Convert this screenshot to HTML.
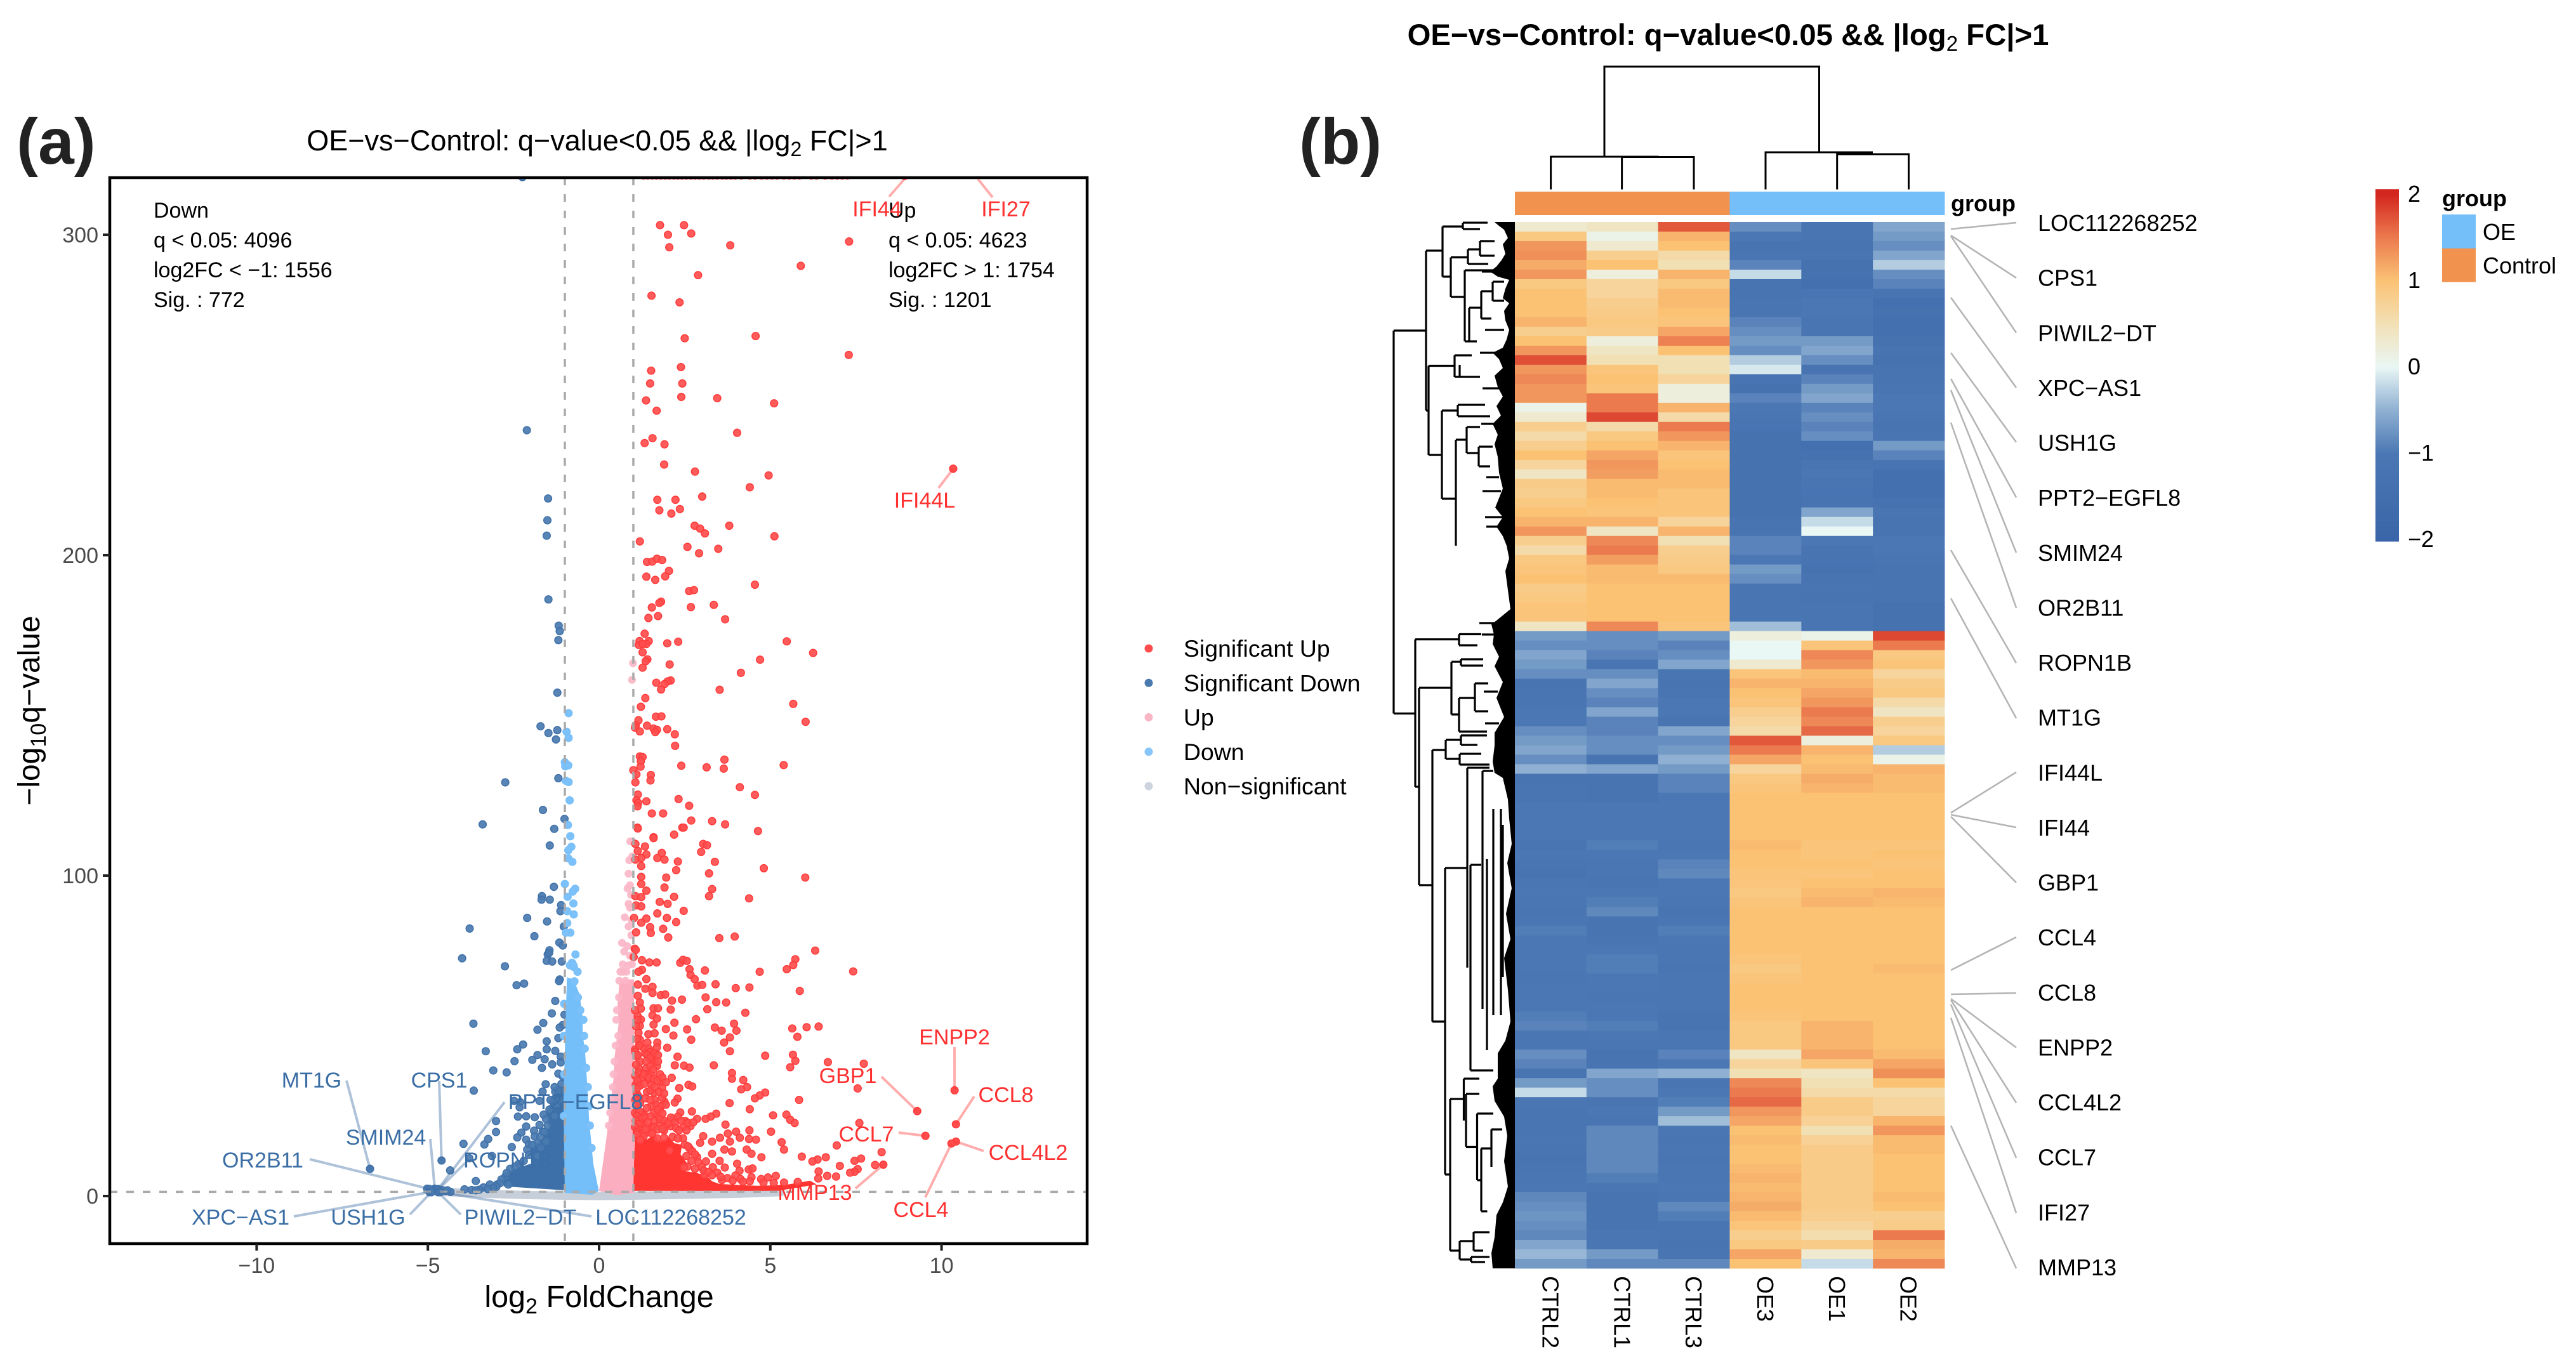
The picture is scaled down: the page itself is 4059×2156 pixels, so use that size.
<!DOCTYPE html>
<html lang="en">
<head>
<meta charset="utf-8">
<title>OE vs Control volcano plot and heatmap</title>
<style>
html,body{margin:0;padding:0;background:#fff;}
svg{display:block;font-family:"Liberation Sans",Arial,sans-serif;}
</style>
</head>
<body>
<svg id="fig" xmlns="http://www.w3.org/2000/svg" width="4059" height="2156" viewBox="0 0 4059 2156">
<rect width="4059" height="2156" fill="#fff"/>
<defs><clipPath id="plotClip"><rect x="173" y="280" width="1540" height="1680"/></clipPath></defs>

<!-- PANEL A -->
<text x="26" y="258" font-size="102" font-weight="700" fill="#222">(a)</text>
<text x="941" y="237" font-size="45" text-anchor="middle" fill="#000">OE−vs−Control: q−value&lt;0.05 &amp;&amp; |log<tspan dy="9" font-size="32">2</tspan><tspan dy="-9"> FC|&gt;1</tspan></text>
<g id="volcanoMarks" clip-path="url(#plotClip)"></g>
<g id="volcanoGuides" clip-path="url(#plotClip)"></g>
<g id="volcanoCallouts"></g>
<rect x="173" y="280" width="1540" height="1680" fill="none" stroke="#000" stroke-width="4.5"/>
<g id="volcanoAxes"></g>
<text x="944" y="2060" font-size="48.5" text-anchor="middle" fill="#000">log<tspan dy="10" font-size="34">2</tspan><tspan dy="-10"> FoldChange</tspan></text>
<text transform="translate(62,1120) rotate(-90)" font-size="48" text-anchor="middle" fill="#000">−log<tspan dy="10" font-size="34">10</tspan><tspan dy="-10">q−value</tspan></text>

<g font-size="34" fill="#000">
<text x="242" y="343">Down</text>
<text x="242" y="390">q &lt; 0.05: 4096</text>
<text x="242" y="437">log2FC &lt; −1: 1556</text>
<text x="242" y="484">Sig. : 772</text>
</g>
<g font-size="34" fill="#000">
<text x="1400" y="343">Up</text>
<text x="1400" y="390">q &lt; 0.05: 4623</text>
<text x="1400" y="437">log2FC &gt; 1: 1754</text>
<text x="1400" y="484">Sig. : 1201</text>
</g>

<g font-size="34" fill="#3a6ea5" text-anchor="middle">
<text x="491" y="1714">MT1G</text>
<text x="692" y="1714">CPS1</text>
<text x="907" y="1748">PPT2−EGFL8</text>
<text x="608" y="1804">SMIM24</text>
<text x="414" y="1840">OR2B11</text>
<text x="800" y="1840">ROPN1B</text>
<text x="379" y="1930">XPC−AS1</text>
<text x="580" y="1930">USH1G</text>
<text x="820" y="1930">PIWIL2−DT</text>
<text x="1057" y="1930">LOC112268252</text>
</g>
<g font-size="34" fill="#ff3030" text-anchor="middle">
<text x="1510" y="1646" dx="-6">ENPP2</text>
<text x="1336" y="1707">GBP1</text>
<text x="1592" y="1737" dx="-7">CCL8</text>
<text x="1365" y="1799">CCL7</text>
<text x="1627" y="1828" dx="-7">CCL4L2</text>
<text x="1284" y="1891">MMP13</text>
<text x="1451" y="1918">CCL4</text>
<text x="1390" y="341" dx="-8">IFI44</text>
<text x="1585" y="341">IFI27</text>
<text x="1457" y="800">IFI44L</text>
</g>

<g id="volcanoLegend"></g>

<!-- PANEL B -->
<text x="2047" y="258" font-size="102" font-weight="700" fill="#222">(b)</text>
<text x="2723" y="71" font-size="47.3" font-weight="700" text-anchor="middle" fill="#000">OE−vs−Control: q−value&lt;0.05 &amp;&amp; |log<tspan dy="9" font-size="33" font-weight="400">2</tspan><tspan dy="-9"> FC|&gt;1</tspan></text>

<path fill="none" stroke="#000" stroke-width="3" d="M2528 247V105H2866.5V240 M2443.6 298.5V247H2613.6 M2555.6 298.5V247.5H2669V298.5 M2782 298.5V240H2951 M2894.7 298.5V243H3007.5V298.5"/>

<g id="heatmapCells"></g>
<g id="annotationBar"></g>
<text x="3074" y="333" font-size="36" font-weight="700" fill="#000">group</text>
<g id="columnLabels"></g>

<polygon fill="#000" points="2355,350 2362,356 2370,362 2376,375 2368,385 2372,400 2366,410 2358,420 2348,428 2360,436 2378,441 2372,455 2368,470 2378,478 2370,490 2372,505 2378,520 2374,535 2368,548 2352,556 2362,566 2368,580 2355,592 2360,610 2368,625 2358,640 2365,655 2352,668 2360,685 2355,700 2360,720 2362,745 2368,770 2360,790 2356,800 2368,815 2358,830 2368,845 2374,860 2378,880 2372,900 2376,930 2380,960 2358,978 2350,984 2354,1000 2352,1015 2362,1035 2355,1050 2368,1075 2358,1100 2370,1130 2355,1155 2355,1175 2352,1200 2355,1218 2368,1226 2376,1260 2378,1290 2382,1330 2375,1360 2382,1400 2373,1440 2380,1480 2370,1510 2376,1560 2380,1610 2372,1640 2360,1660 2360,1700 2352,1712 2355,1735 2370,1760 2375,1790 2370,1830 2376,1870 2368,1895 2358,1915 2355,1950 2350,1975 2352,1999 2387,1999 2387,350"/>
<path fill="none" stroke="#000" stroke-width="3.2" d="
M2196 521V1124.5
M2196 521H2247 M2247 395V647 M2247 395H2273 M2273 357V436 M2273 357H2305 M2305 351V361 M2305 351H2344 M2305 361H2332
M2273 436H2286 M2286 405.6V468 M2286 405.6H2313 M2313 393V416 M2313 393H2332 M2332 380V403 M2332 380H2355 M2332 403H2355 M2313 416H2345
M2286 468H2308 M2308 426V538 M2308 426H2356 M2308 538H2327 M2315 485V538 M2315 485H2334 M2334 459V502 M2334 459H2352 M2352 444V474 M2352 444H2370 M2352 474H2370 M2334 502H2350
M2247 647H2251 M2251 576.5V717 M2251 576.5H2292 M2292 560V594 M2292 560H2319 M2292 594H2332 M2300 575V594
M2251 717H2272 M2272 647V786 M2272 647H2297 M2297 638V656 M2297 638H2340 M2297 656H2348
M2272 786H2294 M2294 693V860 M2294 693H2311 M2311 673V714 M2311 673H2332 M2311 714H2330 M2330 704V735 M2330 704H2352 M2330 735H2348
M2336 774H2365 M2335 428H2360 M2340 520H2370 M2332 556H2360 M2336 612H2362 M2334 668H2358 M2342 752H2362 M2340 815H2368 M2342 830H2362
M2196 1124.5H2230 M2230 1007.6V1240 M2230 1007.6H2299 M2299 999.5V1017 M2299 999.5H2334 M2299 1017H2328
M2230 1240H2236 M2236 1084V1395 M2236 1084H2287 M2287 1043V1126 M2287 1043H2302 M2302 1039V1049 M2302 1039H2337 M2302 1049H2337
M2287 1126H2299 M2299 1100V1153 M2299 1100H2324 M2324 1077V1121 M2324 1077H2345 M2324 1121H2345 M2299 1153H2343 M2331 982H2360 M2335 1000H2360 M2338 1090H2360 M2340 1140H2362
M2236 1395H2257 M2257 1182V1610 M2257 1182H2278 M2278 1166V1196 M2278 1166H2302 M2302 1159V1174 M2302 1159H2343 M2302 1174H2328
M2278 1196H2300 M2300 1188V1205 M2300 1188H2334 M2300 1205H2347
M2257 1610H2277 M2277 1368V1851 M2277 1368H2312 M2312 1210V1525 M2312 1210H2347
M2317 1363V1687 M2317 1363H2334 M2317 1687H2353
M2336 1215V1590 M2336 1215H2353 M2343 1354V1655 M2353 1275V1600 M2365 1275V1600 M2368 1300V1540
M2277 1851H2285 M2285 1732V1971 M2285 1732H2306.5 M2306.5 1700V1766 M2306.5 1700H2331 M2310 1724V1807.5 M2310 1724H2331 M2310 1807.5H2327.5
M2327.5 1755V1860 M2327.5 1755H2353 M2327.5 1860H2334 M2334 1810V1909 M2334 1810H2350 M2350 1780V1839 M2350 1780H2367 M2334 1909H2343.5
M2285 1971H2300 M2300 1956V1985 M2300 1956H2322 M2322 1942V1971 M2322 1942H2347 M2322 1971H2337 M2300 1985H2318 M2318 1981V1989 M2318 1981H2347 M2318 1989H2340"/>

<g stroke="#b4b4b4" stroke-width="2.6" fill="none">
<line x1="3074" y1="361" x2="3177" y2="351"/>
<line x1="3074" y1="371" x2="3177" y2="438"/>
<line x1="3074" y1="372" x2="3177" y2="524.5"/>
<line x1="3074" y1="469" x2="3177" y2="611"/>
<line x1="3074" y1="556" x2="3177" y2="697"/>
<line x1="3074" y1="597" x2="3177" y2="784"/>
<line x1="3074" y1="615" x2="3177" y2="871"/>
<line x1="3074" y1="666" x2="3177" y2="958"/>
<line x1="3074" y1="867" x2="3177" y2="1045"/>
<line x1="3074" y1="943" x2="3177" y2="1132"/>
<line x1="3074" y1="1281" x2="3177" y2="1217"/>
<line x1="3074" y1="1284" x2="3177" y2="1304"/>
<line x1="3074" y1="1287" x2="3177" y2="1391"/>
<line x1="3074" y1="1529" x2="3177" y2="1477"/>
<line x1="3074" y1="1567" x2="3177" y2="1565"/>
<line x1="3074" y1="1574" x2="3177" y2="1651"/>
<line x1="3074" y1="1576" x2="3177" y2="1738"/>
<line x1="3074" y1="1583" x2="3177" y2="1825"/>
<line x1="3074" y1="1604" x2="3177" y2="1912"/>
<line x1="3074" y1="1774" x2="3177" y2="1999"/>
</g>

<g font-size="36" fill="#000">
<text x="3211" y="364">LOC112268252</text>
<text x="3211" y="450.6">CPS1</text>
<text x="3211" y="537.3">PIWIL2−DT</text>
<text x="3211" y="623.9">XPC−AS1</text>
<text x="3211" y="710.5">USH1G</text>
<text x="3211" y="797.2">PPT2−EGFL8</text>
<text x="3211" y="883.8">SMIM24</text>
<text x="3211" y="970.4">OR2B11</text>
<text x="3211" y="1057">ROPN1B</text>
<text x="3211" y="1143.7">MT1G</text>
<text x="3211" y="1230.3">IFI44L</text>
<text x="3211" y="1316.9">IFI44</text>
<text x="3211" y="1403.6">GBP1</text>
<text x="3211" y="1490.2">CCL4</text>
<text x="3211" y="1576.8">CCL8</text>
<text x="3211" y="1663.5">ENPP2</text>
<text x="3211" y="1750.1">CCL4L2</text>
<text x="3211" y="1836.7">CCL7</text>
<text x="3211" y="1923.3">IFI27</text>
<text x="3211" y="2010">MMP13</text>
</g>

<g id="colorbar"></g>

<g>
<text x="3848" y="325" font-size="36" font-weight="700" fill="#000">group</text>
<rect x="3848" y="338" width="53" height="53.5" fill="#74bef9"/>
<rect x="3848" y="391.5" width="53" height="53" fill="#f1934f"/>
<text x="3912" y="378" font-size="36" fill="#000">OE</text>
<text x="3912" y="431" font-size="36" fill="#000">Control</text>
</g>
</svg>

<script>
/* ---------- volcano data: [log2 fold change, -log10 q] ---------- */
const xTickValues=[-10,-5,0,5,10];
const yTickValues=[0,100,200,300];
const thresholdLfc=[-1,1];
const thresholdQ=[1.3];
const legendNames=['Significant Up','Significant Down','Up','Down','Non−significant'];

const sigUpClipped=[1.3,1.42,1.55,1.68,1.8,1.93,2.05,2.18,2.3,2.42,2.55,2.68,2.8,2.93,3.05,3.2,3.32,3.45,3.6,3.72,3.85,3.97,4.15,4.4,4.55,4.75,4.9,5.05,5.2,5.4,5.55,5.7,5.85,6.2,6.35,6.6,6.8,6.95,7.1,7.25];

const sigUpPoints=[[1.78,303],[2.48,303],[2.01,300],[2.69,300.4],[2.05,296.1],[3.83,296.7],[7.3,297.9],[5.89,290.3],[2.89,287.4],[1.53,281],[2.35,278.9],[2.5,267.7],[4.57,268.4],[7.29,262.5],[2.39,258.7],[1.52,257.6],[1.49,253.6],[2.43,253.6],[1.37,248.3],[2.4,249.4],[3.45,249],[5.11,247.4],[1.68,245.1],[4.03,238.2],[1.56,236.5],[1.33,235],[1.91,234.6],[1.9,228.3],[2.8,226.1],[4.95,224.9],[4.4,221.2],[1.7,217.3],[2.23,217.3],[3.01,218.3],
[1.76,214],[2.11,213],[2.36,214.4],[2.79,209.2],[2.95,208.3],[3.09,206.8],[3.8,209.2],[5.12,205.9],[1.19,204.3],[2.58,202.6],[3.48,202],[2.92,200.6],[1.4,197.9],[1.55,198],[1.69,198.9],[1.84,198.5],[2.04,195.1],[1.93,193.4],[1.38,193.3],[1.64,192.3],[4.55,190.8],[2.63,188.8],[2.77,189.1],[1.81,185.5],[1.76,185.1],[1.54,183.7],[2.68,183.8],[3.35,184.5],[1.72,181],[1.44,180.4],[3.68,180],[1.33,175.5],[1.18,173.2],[1.45,173.2],[1.16,172],[1.38,172.3],[1.27,172.3],[1.99,172.5],[2.31,173],[5.48,173.1],[6.25,169.5],[1.27,169.7],[1.41,167.5],[1.36,166.9],[1.27,164.9],[2.06,165.9],[4.7,167.4],[4.14,163.3],[1.67,160.2],[2.09,160.9],[2,160.6],[1.91,159.8],[1.81,158.1],[3.52,158],[1.35,155.4],[1.22,152.7],[5.67,153.6],[1.66,149.6],[1.82,149.7],[1.15,148.5],[6.03,148],[1.07,146.9],[1.05,146.2],[1.4,146.8],[1.19,145],[1.59,145.9],[1.69,145.5],[1.64,144.8],[1.99,145.7],[2.21,144.1],[2.22,140.5],[1.19,137.2],[1.27,137],[1.22,135.7],[1.21,134],[1,132.9],[1.09,131.6],[1.51,131.4],[1.5,129.7],[1.06,129.1],[2.4,134.3],[3.14,133.8],[3.66,136.2],[3.64,133.4],[5.39,134.5],[4.11,127.6],[4.55,125.2],[1.13,125.3],[1.09,123.5],[1.14,122.7],[1.12,121.6],[1.38,123.2],[2.32,123.9],[2.63,121.8],[1.54,119.4],[1.87,119.4],[2.69,117.2],[3.3,117],[3.68,116],[4.64,113.9],[1.12,115],[2.43,115],[2.19,112.8],[1.59,112],
[1.13,114.7],[2.47,115],[1.59,111.7],[1.06,109.9],[3.04,109.9],[3.15,109.5],[1.34,109.1],[1.13,107.7],[1.83,107.1],[1.38,106.6],[1.23,105.5],[1.7,105.5],[1.91,105],[2.3,104.4],[2.98,107.4],[3.38,104.3],[1.06,105],[1.23,103],[2.25,101.7],[4.81,102.3],[3.21,100.7],[6.02,99.4],[1.23,99.6],[1.96,99.4],[1.91,96.3],[1.23,97.4],[3.3,95.8],[1.38,95.3],[3.21,93.6],[2.19,93.4],[4.38,92.9],[1.06,93.6],[1.23,93.3],[1.77,91.8],[2,91.2],[1.08,90.7],[1.23,90.4],[2.47,89],[1.7,88.2],[1.02,86.8],[1.38,86.6],[1.98,86.8],[2.25,85.5],[1.23,85.3],[1.49,83.9],[1.87,83.4],[1.08,82.3],[1.51,82.1],[2.02,80.7],[3.51,80.5],[3.96,81],
[1.04,77.2],[1.07,76.8],[6.31,76.6],[5.73,73.9],[5.67,72.1],[5.48,70.8],[7.42,70.1],[4.69,70],[1.01,74.6],[1.25,73.6],[1.47,72.9],[1.68,72.9],[2.37,72.8],[2.45,73.7],[2.56,73.4],[2.64,70.8],[3.09,70.4],[2.67,69],[2.79,67.7],[2.87,65.7],[3.01,65.9],[3.4,66.1],[3.99,64.9],[4.39,65.1],[5.86,64],[1.25,70.6],[1.15,70],[1.38,67.7],[1.13,66],[1.35,64.7],[1.56,65.3],[1.56,63.4],[1.8,62.7],[1.93,62.9],[1.13,62.5],[2.13,61],[2.42,61.3],[3.11,62],[3.42,60.5],[3.71,60.4],[3.16,58.3],[4.27,57.2],[1.19,60.4],[1.22,58.5],[1.59,58.6],[1.72,58.6],[2.09,58.2],[2.83,55.2],[1.56,56.4],[1.69,55.4],[1.13,56.1],[1.22,55.1],[2.2,54.1],[1.59,53.5],[1.19,53.1],[1.95,52.1],[2.57,52],[3.38,52.6],[3.58,51.6],[3.94,53.8],[4.01,51.6],[5.64,52.3],[6.06,52.7],[6.41,52.9],[5.79,49.7],[3.82,49.5],[3.65,47.9],[2.17,50.1],[2.69,48.8],[1.44,50.5],[1.62,50.8],[1.19,48.8],[1.7,47.9],[1.41,47.9],[1.16,46.9],[1.99,46.3],[1.69,46.4],[1.05,45.7],[1.32,45.9],[3.82,45.2],[4.85,43.8],[5.66,44.1],[5.73,42.2],[5.58,40.2],[6.68,41.8],[7.73,41.3],[2.29,43.5],[1.56,43.9],[1.1,43.6],[1.62,41.9],[2.21,40.8],[2.48,40.7],[2.64,40.1],[3.35,40.8],[3.88,38.4],[3.88,36.6],[4.21,36.2],[4.32,34],[4.15,33.3],[4.85,32.3],[4.69,31.4],[4.55,30.5],[5.84,30],[7.55,33.6],[1.69,40.6],[1.38,39.9],[1.16,39.9],[1.38,38],[1.53,38],[1.78,38],[2.12,36.9],[1.22,36.6],[1.44,36.3],[1.81,35.6],[2.61,34.7],[2.72,34.2],[2.34,33.7],[1.53,34.7],[1.07,34.7],[1.84,33.7],[1.4,32.5],[1.6,32.3],[1.1,32],[2.29,30.4],[2.21,29.2],[1.91,29.4],[1.62,30],[1.84,30.7],[3.81,29],[4.4,27.1],[1.78,26.7],[1.53,28],[1.1,27.4],[1.28,25.4],[1.69,25.1],[5.08,25.2],[5.47,25.4],[5.58,23.8],[5.71,22.8],[7.6,22.8],[2.71,26.4],[3.42,25.7],[3.26,24.8],[3.11,24.1],[2.86,24.1],[2.37,26.1],[2.18,24.1],[2.52,23.4],[2.09,21.8],[2.46,21.5],[2.67,21.8],[3.69,22.3],[1.22,22.4],[1.77,22.8],[1.53,21.5],[4.39,20.5],[5.02,20.1],[4,20.1],[1.9,20.5],[1.47,19.8],[3.04,18.7],[2.95,16.6],[3.53,18.2],[3.76,19.5],[4.11,18.2],[4.38,17.8],[4.58,17.6],[3.3,17],[3.82,17],[5.33,16.8],[5.4,14.5],[6.94,15.8],[3.66,14.5],[3.88,13.9],[4.31,14.5],[4.45,13.2],[3.3,13.2],[2.06,14.2],[2.64,14.9],[5.92,12.3],[4.74,12.1],[6.62,12.1],[6.38,11.4],[6.23,10.8],[7.65,11.7],[7.46,11],[8.25,13.7],[8.06,9.7],[7.03,9.4],[7.55,8.4],[7.46,7.6],[7.33,7.3],[6.41,7.7],[6.66,6.3],[6.92,6.1],[6.4,5.5],[4.03,10.1],[4.1,7.9],[4.37,8.3],[4.48,8.6],[3.67,8.9],[3.52,11],[3.12,10.8],[3.32,9],[3.45,7.3],[2.86,12.2],[2.58,9.2],[5.16,6.3],[4.93,5.8],[4.73,5.3],[4.45,5.9],[4.13,5.3],[3.98,6.4],[3.59,5],[3.08,6.6],
[1.05,58],[1.12,55],[1.08,53],[1.15,51],[1.1,49],[1.18,47],[1.06,45],[1.13,44],[1.2,42],[1.08,41],[1.15,38.5],[1.06,37.5],[1.12,36],[1.2,34.5],[1.1,33.5],[1.16,31],[1.06,30],[1.2,29],[1.12,28.5],[1.05,26],[1.18,26.5],[1.1,25],[1.22,24],[1.07,23.5],[1.15,22.5],[1.05,21.5],[1.2,20.5],[1.1,20],[1.28,19.5],
[1.35,44.5],[1.45,46],[1.5,45],[1.4,44],[1.55,42.5],[1.62,44.5],[1.48,43],[1.72,44],[1.38,42],[1.5,40.5],[1.58,39.5],[1.72,42],[1.3,38],[1.45,37],[1.6,36.5],[1.7,36],[1.85,37],[1.95,35.5],[1.32,35],[1.5,33],[1.62,34],[1.75,32.5],[1.9,32],[1.35,30.5],[1.5,30],[1.68,28.5],[1.8,28],[1.95,28.5],[1.4,27.5],[1.6,26],[1.72,27],[1.85,25.8],[1.35,24.5],[1.5,24.8],[1.62,23.5],[1.78,24],[1.9,23.5],[1.42,23],[1.6,21.5],[1.72,20.8],[1.85,21],[1.35,20.8],[1.55,19.5],[2,22.5],[2.03,23],[2.1,24.5],[2.22,23],[2.3,24.8],[2.4,23.5],[2.6,22.8],[2.75,23],[2.25,21.2],[2.33,20.5],[2.55,20.5],
[2.45,18],[2.5,16],[2.6,15.5],[2.72,14],[2.8,13],[2.55,12.5],[2.7,11],[2.9,10.5],[3,9],[2.48,9],[2.8,8.5],[3.05,8],[3.2,7.5],[3.3,6.5],[3.55,6],[3.75,5.6],[3.9,4.8],[4.2,4.5],[4.4,4.6],[4.8,4.2],[5.1,4.1],[5.4,4.2],[5.8,4.4],[2.15,18.5],[2.3,18],[1.7,18],[1.9,18.2],[1.3,18.6],[1.1,19.3],[1.2,17.5]];

const sigDownPoints=[[-2.24,318],[-2.11,239],[-1.49,217.7],[-1.51,210.9],[-1.53,206.1],[-1.48,186.2],[-1.18,178],[-1.15,176.3],[-1.19,173.5],[-1.22,157.1],[-1.71,146.6],[-1.48,144.5],[-1.22,145.4],[-1.26,142.5],[-2.74,129.1],[-1.19,130.4],[-1.64,120.5],[-3.4,116],[-1.01,117.7],[-1.31,114.6],[-1.44,109.4],[-1.32,96.5],[-1.67,93.6],[-1.68,92.5],[-1.44,92.5],[-1.11,90.8],[-1.13,88.9],[-2.1,86.8],[-1.52,85.7],[-1.03,84.1],[-3.78,83.5],[-1.89,81.1],[-1.16,79.1],[-1.45,76.7],[-1.5,75.4],[-1.06,78.2],
[-4,74.2],[-2.75,71.7],[-1.46,75.9],[-1.53,73.4],[-1.37,73.2],[-1.09,73.2],[-2.41,65.8],[-2.19,66.3],[-1.15,67.6],[-1.17,67.1],[-1.28,60.9],[-3.67,53.8],[-1.38,57],[-1.01,56.6],[-1.63,54],[-1.8,51.9],[-1.06,53.4],[-1.15,52.6],[-1.19,49.3],[-1.53,48.3],[-2.22,47.3],[-2.39,45.8],[-3.31,45.2],[-1.53,45.8],[-1.28,45.3],[-1.8,44],[-1.95,42.5],[-1.59,42.7],[-2.47,42.1],[-1.12,43.5],[-1.12,41.7],[-1.37,41.1],[-1.67,40],[-3.09,39.2],[-2.7,38.6],[-1.19,38.2],[-1.06,37.3],[-3.66,32.9],[-1.56,34.9],[-1.28,32.6],[-1.65,32.6],[-1.12,33],[-1.74,29.7],[-2.3,29.3],[-2.48,29.7],[-2.32,27.7],[-2.37,24.8],[-2.13,24.9],[-1.88,24.6],[-1.62,25.4],[-1,25.2],[-3.01,23.4],[-3.01,20],[-2.13,21.7],[-1.74,22.2],[-1.9,20.4],[-1.65,20.1],[-2.27,19.8],[-2.39,18.3],[-1.88,18.6],[-2.13,17.6],[-3.24,17.8],[-3.35,16.1],[-3.96,16.3],[-2.55,15.3],[-2.05,16.1],[-3.79,11.8],[-3.13,12.5],[-4.35,8],[-3.6,4.7],[-2.73,6.2],[-3.19,3.6],[-3.38,2.7],[-2.98,3.6],[-3.72,1.9],[-3.93,2.1],[-5.02,2.3],[-4.8,1.9],[-4.65,1.9],[-4.49,1.6],[-4.34,1.3],[-4.89,1.6],[-4.74,1.7],[-4.57,1.8],[-4.43,1.8],
[-1.1,35],[-1.2,33],[-1.35,29.5],[-1.45,27],[-1.55,24],[-1.42,30],[-1.3,34],[-1.5,22],[-1.6,20],[-1.72,18.5],[-1.8,16.5],[-1.95,16],[-2.1,14.5],[-2.05,12.8],[-2.2,11],[-2.35,10],[-2.45,9.2],[-2.6,8.5],[-2.7,7.2],[-2.85,5.2],[-2.9,4],[-2.65,3.6],[-3,2.9],[-3.1,2.5],[-3.25,2.2],[-3.5,2],[-3.6,1.8],[-1.8,12.5],[-1.7,15],[-1.55,17],[-1.3,25],[-1.25,28],[-1.15,30]];

const downPoints=[[-0.89,150.7],[-0.95,144.9],[-0.89,143],[-1,135.4],[-0.99,134.1],[-0.9,134.4],[-0.97,129.6],[-0.89,129.2],[-0.86,123.5],[-0.91,115.8],[-0.84,112.3],[-0.81,109],[-0.9,107.9],[-0.9,105.4],[-0.78,104.3],[-1,97.4],[-0.7,95.9],[-0.77,95],[-0.92,93.4],[-0.75,91.3],[-0.93,88.9],[-0.74,87.9],[-0.93,85.2],[-0.84,82.2],[-0.97,82.2],[-0.69,75.4],[-0.79,72.8],[-0.74,71.5],[-0.63,70],
[-0.72,67],[-0.62,62],[-0.55,58],[-0.46,55],[-0.44,50],[-0.42,46],[-0.38,40],[-0.33,34],[-0.3,28],[-0.27,22],[-0.22,15],[-1.02,60],[-1.03,50],[-1.02,38],[-1.03,25],[-0.85,72],[-0.75,72]];

const upPoints=[[0.99,166.3],[0.96,161.1],[0.98,110.6],[0.91,110.7],[0.88,104.8],[0.86,100.6],[0.93,94],[0.86,91.2],[0.75,87],[0.86,84.1],[0.67,79],[0.94,81.4],[0.73,76.3],[0.69,72.3],[0.96,72.3],[0.59,67.2],[0.77,67.2],
[0.58,62],[0.52,58],[0.5,55],[0.56,50],[0.48,47],[0.45,42],[0.42,38],[0.4,34],[0.36,30],[0.32,26],[0.28,22],[0.62,70],[0.7,70],[0.8,70],[0.85,72],[0.9,75],[0.82,78],[0.95,86],[0.9,90],[0.83,96],[0.9,97],[0.97,106]];

/* dense clouds read as outlines of the overplotted points */
const downCloud=[[-0.94,68.3],[-0.75,67.6],[-0.57,63],[-0.48,55.7],[-0.48,50.5],[-0.41,45.2],[-0.35,35.3],[-0.29,23.4],[-0.17,10.2],[-0.01,1.6],[-0.2,0.4],[-1,1],[-1.04,30]];
const upCloud=[[0,1.6],[0.23,19.4],[0.42,36.6],[0.45,43.2],[0.57,53.8],[0.54,59.7],[0.6,67.6],[1.02,67.6],[1.02,1],[0.5,0.3]];
const sigDownCloud=[[-1.06,34],[-1.31,31.3],[-1.56,26],[-1.46,21.4],[-1.65,18],[-2,14.8],[-1.96,10.2],[-2.55,8.2],[-2.79,5.6],[-2.79,3],[-1,1.8],[-1,34]];
const sigUpCloud=[[1.04,18.8],[1.28,19.6],[1.4,17.6],[1.62,19.5],[1.78,17],[2.03,18.5],[2.2,16.5],[2.42,16],[2.38,13],[2.55,10.5],[2.5,7.8],[2.85,7.2],[3.14,6.3],[3.3,4.6],[3.5,3.8],[4.1,3.4],[4.62,3.2],[5.4,3.4],[6.16,4.8],[6.35,3.6],[5.2,1.6],[1,1.6]];
const sigUpStrip=[[1,36],[1.18,37],[1.12,33],[1.3,31],[1.2,27],[1.45,26],[1.4,23],[1.6,22],[1.7,19.5],[1,19]];
const nonSigRidge=[[-4.6,1.3],[-3,0.6],[-2,0.3],[-1,0.1],[0,0],[1,0.1],[2,0.3],[3,0.5],[4,0.7],[5.3,1.2]];

/* labelled genes */
const calloutGenes=['MT1G','CPS1','SMIM24','OR2B11','PPT2-EGFL8','ROPN1B','XPC-AS1','USH1G','PIWIL2-DT','LOC112268252','ENPP2','GBP1','CCL8','CCL7','CCL4L2','CCL4','MMP13','IFI44','IFI27','IFI44L'];
const calloutLfc=[-6.69,-4.6,-4.8,-4.95,-4.7,-4.7,-4.95,-4.9,-4.7,-4.65,10.38,9.29,10.42,9.53,10.42,10.29,8.3,8.92,11.06,10.34];
const calloutQ=[8.5,11.1,2.3,2.2,2.2,2,1.2,1.2,1.2,1.2,33,26.5,22.4,18.8,17,16.4,9.8,318.4,318.8,227];

/* ---------- heatmap data ---------- */
const sampleNames=['CTRL2','CTRL1','CTRL3','OE3','OE1','OE2'];
const sampleGroups=['Control','Control','Control','OE','OE','OE'];
const colorbarTicks=[2,1,0,-1,-2];
const expressionRows=[
[.3,.4,1.7,-.8,-1.1,-.6],[.9,.1,1.1,-1,-1.1,-.7],[1.3,.3,1,-1.2,-1.2,-.8],[1.35,.8,.6,-1.1,-1.1,-.6],[1.15,1,.5,-.9,-1.3,-.3],[1.3,.2,1.1,-.2,-1.3,-.8],[.9,.7,.9,-1.2,-1.4,-.9],[1,.7,1.05,-1.2,-1.1,-1.2],[1,.8,1.05,-1.1,-1,-1.4],[1,.85,1,-1.1,-1,-1.3],
[1.1,.9,.95,-.9,-1.1,-1.4],[.8,.85,1.2,-.8,-1.1,-1.4],[1,.2,1.45,-.7,-.7,-1.3],[1.3,.4,1,-.8,-.6,-1.2],[1.75,.5,.5,-.3,-.8,-1.3],[1.3,.95,.5,-.1,-1.2,-1.2],[1.4,1,.7,-1.2,-.9,-1.2],[1.3,.95,.2,-1.3,-.7,-1.1],[1.3,1.5,.2,-.9,-.6,-1],[.1,1.5,1.1,-1,-.9,-1],
[.3,1.8,.6,-1.1,-.8,-1.1],[.8,.6,1.5,-1.2,-.9,-1.2],[.6,.9,1.3,-1.3,-.8,-1.1],[.8,1,1.1,-1.3,-1.4,-.7],[1,1.2,.95,-1.3,-1.3,-.9],[.7,1.3,1,-1.3,-1.1,-1.2],[.4,1.25,1.05,-1.3,-1,-1.4],[.85,1.05,1.05,-1.3,-1.1,-1.4],[.8,1.05,.95,-1.3,-1.2,-1.4],[.9,1,.95,-1.3,-1.2,-1.3],
[1,.95,.95,-1.3,-.6,-1.1],[1.1,1.1,.7,-1.2,-.2,-1.2],[1.3,.4,1.1,-1.2,0,-1.2],[.8,1.4,.5,-.9,-1,-1],[.6,1.5,.8,-.9,-1.2,-1],[.9,1.25,.85,-1,-1.2,-1.1],[.95,1.05,.9,-.7,-1.3,-1.2],[1,1.05,1.05,-.8,-1.2,-1.2],[.85,1,1,-1.1,-1.1,-1.2],[.9,1,1,-1.1,-1.2,-1.2],
[.95,1,1,-1.1,-1.1,-1.3],[.95,1,1,-1.1,-1.1,-1.3],[.4,1.4,.95,-.4,-1.1,-1.3],
[-.7,-.8,-.7,.2,.1,1.8],[-.8,-.8,-.9,0,.95,1.5],[-.6,-.9,-.8,0,1.4,.9],[-.7,-1.1,-.6,.3,1.3,.95],[-.8,-.8,-1.1,.95,1.05,.7],[-1.2,-.6,-1.2,1.1,1.1,.85],[-1.1,-.8,-1.1,1,1.2,.9],
[-1.1,-.9,-1,.95,1.3,.6],[-1,-.6,-1,.8,1.5,.4],[-1,-.9,-1.2,.7,1.4,.8],[-.8,-.9,-.6,.6,1.6,.7],[-.7,-.8,-.8,1.7,.2,.9],[-.6,-.8,-.7,1.5,1.1,-.3],[-.8,-1.2,-.5,1.2,1,.1],[-.5,-.6,-.7,.7,1.05,1.1],[-1.2,-1.2,-.9,.9,1.15,1.05],[-1.1,-1.2,-.9,.95,1.1,1.05],
[-1.1,-1.2,-1,1,1,1],[-1,-1,-1,1,1,1],[-1,-1,-1,1,1,1],[-1,-1,-1,1,1,1],[-1,-1,-1,1,1,1],[-1.1,-.95,-1.05,1.05,.95,.95],[-1,-1,-1,1,.95,1],[-1.1,-1.05,-.9,1,1,.95],[-1.15,-1.05,-.85,.95,.95,1],[-1.05,-1.1,-1,.95,1,1],
[-1,-1,-1,.9,1.05,1.1],[-1.05,-.95,-1.05,.95,1.1,1.05],[-1.1,-.85,-1.15,1,1,1],[-1.05,-1.15,-1.05,1,1,1],[-.95,-1.15,-.95,1,1,1],[-1,-1.1,-1,1,1,1],[-1,-1,-1.05,1,1,1],[-1,-.95,-1.05,.95,1,1],[-1,-.95,-1.1,.9,1,1.05],[-1.05,-1,-1.05,.95,1,1],
[-1,-1,-1.05,1,1,1],[-1,-1.05,-1.05,1,1,1],[-1,-1,-1.05,1,1,1],[-.95,-1,-1.15,.95,1,1],[-.9,-.95,-1.15,.9,1.1,1],[-1.05,-1,-1.05,.9,1.1,1],[-1.05,-1.05,-1.05,.9,1.1,1],[-.8,-1.2,-.9,.4,1.2,1.05],[-.9,-1.15,-1,.7,.95,1.2],[-1.2,-.6,-.5,.5,.4,1.35],
[-.7,-.8,-1.1,1.4,.5,1],[-.2,-.8,-1,1.5,.6,.6],[-1.05,-1.1,-.95,1.6,.85,.7],[-1.1,-1,-.7,1.3,.85,.7],[-1.1,-1.1,-.4,1.2,.75,1.1],[-1.1,-.85,-1.05,1,.5,1.3],[-1.05,-.85,-1.1,1.05,.75,1.05],[-1.1,-.85,-1.05,1,.85,1.05],[-1.15,-.85,-1.1,1,.85,1],[-1.1,-.85,-1.05,1.05,.85,1],
[-1.05,-.95,-1.05,1.1,.85,1],[-1,-1.05,-1,1.05,.85,1],[-.85,-1.15,-1.05,1.1,.85,1.05],[-.8,-1.2,-.85,1.15,.85,1],[-.75,-1.2,-.95,1.05,.8,.8],[-.8,-1.15,-1.1,.95,.7,.85],[-.85,-1.05,-1.1,.8,.55,1.5],[-.6,-1.05,-1.15,.9,.85,1.15],[-.45,-.7,-1.1,1.2,.3,1.1],[-.7,-.85,-.85,1,-.2,1.4]
];
const colorStopValues=[-2,-1,-.5,0,.5,1,1.5,2];
const colorStopHex=['#3a65a8','#4b78b4','#8fb0d2','#e9f7f5','#f2e0b5','#fbc274','#eb7a4e','#d2261f'];

/* ---------- helpers ---------- */
const NS='http://www.w3.org/2000/svg';
function mk(parent,tag,attrs,txt){
  const el=document.createElementNS(NS,tag);
  for(const k in attrs){el.setAttribute(k,attrs[k]);}
  if(txt!==undefined){el.textContent=txt;}
  parent.appendChild(el);
  return el;
}
const xScale=v=>944+53.96*v;
const yScale=v=>1885-5.05*v;
const toPts=arr=>arr.map(p=>xScale(p[0]).toFixed(1)+','+yScale(p[1]).toFixed(1)).join(' ');
const minus=v=>String(v).replace('-','−');
function hexRgb(h){return [1,3,5].map(i=>parseInt(h.substr(i,2),16));}
function heatColor(v){
  const n=colorStopValues.length;
  if(v<=colorStopValues[0])return colorStopHex[0];
  if(v>=colorStopValues[n-1])return colorStopHex[n-1];
  for(let i=0;i<n-1;i++){
    if(v<=colorStopValues[i+1]){
      const t=(v-colorStopValues[i])/(colorStopValues[i+1]-colorStopValues[i]);
      const a=hexRgb(colorStopHex[i]),b=hexRgb(colorStopHex[i+1]);
      return 'rgb('+a.map((c,j)=>Math.round(c+(b[j]-c)*t)).join(',')+')';
    }
  }
}

/* ---------- volcano marks ---------- */
const marks=document.getElementById('volcanoMarks');
const ridge=mk(marks,'polyline',{points:toPts(nonSigRidge),fill:'none',stroke:'#c6ced9','stroke-width':13,'stroke-linecap':'round','stroke-linejoin':'round'});



const sdCloud=mk(marks,'polygon',{points:toPts(sigDownCloud),fill:'#3d70a8'});



sigDownPoints.forEach(p=>{
  const c=mk(marks,'circle',{cx:xScale(p[0]),cy:yScale(p[1]),r:5.8,fill:'#4a7bb0','fill-opacity':.92,stroke:'#3f70a8','stroke-width':1.5});
  
  
});

const dCloud=mk(marks,'polygon',{points:toPts(downCloud),fill:'#74bef9'});



downPoints.forEach(p=>{
  const c=mk(marks,'circle',{cx:xScale(p[0]),cy:yScale(p[1]),r:6,fill:'#7cc1f9',stroke:'#74bef9','stroke-width':1});
  
  
});

const uCloud=mk(marks,'polygon',{points:toPts(upCloud),fill:'#fbaebf'});



upPoints.forEach(p=>{
  const c=mk(marks,'circle',{cx:xScale(p[0]),cy:yScale(p[1]),r:6.2,fill:'#fbb6c6','fill-opacity':.9});
  
  
});

const suCloud=mk(marks,'polygon',{points:toPts(sigUpCloud),fill:'#ff3531'});



const suStrip=mk(marks,'polygon',{points:toPts(sigUpStrip),fill:'#ff3f3c','fill-opacity':.85});



sigUpClipped.forEach(v=>{
  const c=mk(marks,'circle',{cx:xScale(v),cy:yScale(318.5),r:6.5,fill:'#ff4040'});
  
  
});
sigUpPoints.forEach(p=>{
  const c=mk(marks,'circle',{cx:xScale(p[0]),cy:yScale(p[1]),r:5.8,fill:'#ff4d4d','fill-opacity':.92,stroke:'#ff3b3b','stroke-width':1.5});
  
  
});

calloutGenes.forEach((g,i)=>{
  const up=calloutLfc[i]>0;
  const c=mk(marks,'circle',{cx:xScale(calloutLfc[i]),cy:yScale(calloutQ[i]),r:5.8,fill:up?'#ff4d4d':'#4a7bb0',stroke:up?'#ff3b3b':'#3f70a8','stroke-width':1.5});
  
  
});

/* threshold lines */
const guides=document.getElementById('volcanoGuides');
thresholdLfc.forEach(v=>{
  const l=mk(guides,'line',{x1:xScale(v),x2:xScale(v),y1:280,y2:1960,stroke:'#aaa','stroke-width':3.5,'stroke-dasharray':'12 14'});
  
  
});
thresholdQ.forEach(v=>{
  const l=mk(guides,'line',{x1:173,x2:1713,y1:yScale(v),y2:yScale(v),stroke:'#aaa','stroke-width':3.5,'stroke-dasharray':'12 14'});
  
  
});

/* callout lines: label-side anchor placement is layout, kept local */
(function(){
  const g=document.getElementById('volcanoCallouts');
  const anchorX=[546,692,678,488,795,733,463,646,726,932,1504,1389,1535,1416,1550,1458,1348,1401,1564,1479];
  const anchorY=[1703,1704,1795,1827,1737,1833,1917,1914,1914,1917,1650,1697,1728,1785,1814,1887,1873,310,311,769];
  calloutGenes.forEach((name,i)=>{
    const up=calloutLfc[i]>0;
    const l=mk(g,'line',{x1:anchorX[i],y1:anchorY[i],x2:xScale(calloutLfc[i]),y2:Math.max(yScale(calloutQ[i]),282),stroke:up?'#ff3c3c':'#3d6ea5','stroke-opacity':.42,'stroke-width':4});
    
    
  });
})();

/* axes */
const axes=document.getElementById('volcanoAxes');
xTickValues.forEach(v=>{
  const t=mk(axes,'line',{x1:xScale(v),x2:xScale(v),y1:1960,y2:1971,stroke:'#222','stroke-width':4});
  
  
  const s=mk(axes,'text',{x:xScale(v),y:2006,'font-size':34,'text-anchor':'middle',fill:'#4a4a4a'},minus(v));
  
  
});
yTickValues.forEach(v=>{
  const t=mk(axes,'line',{x1:162,x2:173,y1:yScale(v),y2:yScale(v),stroke:'#222','stroke-width':4});
  
  
  const s=mk(axes,'text',{x:155,y:yScale(v)+12,'font-size':34,'text-anchor':'end',fill:'#4a4a4a'},minus(v));
  
  
});

/* legend */
(function(){
  const g=document.getElementById('volcanoLegend');
  const fills=['#ff4d4d','#4a7bb0','#fbb6c6','#86c6fa','#cdd4df'];
  legendNames.forEach((n,i)=>{
    const cy=1022+54.25*i;
    const d=mk(g,'circle',{cx:1810,cy:cy,r:6.5,fill:fills[i]});
    
    
    const t=mk(g,'text',{x:1865,y:cy+13,'font-size':37.4,fill:'#000'},n);
    
    
  });
})();

/* ---------- heatmap ---------- */
(function(){
  const g=document.getElementById('heatmapCells');
  const left=2387,right=3064,top=350,bottom=1999;
  const cw=(right-left)/sampleNames.length;
  const rh=(bottom-top)/expressionRows.length;
  expressionRows.forEach((row,r)=>{
    row.forEach((v,c)=>{
      const cell=mk(g,'rect',{x:left+c*cw,y:top+r*rh,width:cw+.4,height:rh+.4,fill:heatColor(v)});
      
      
    });
  });
  const bar=document.getElementById('annotationBar');
  const lab=document.getElementById('columnLabels');
  sampleNames.forEach((name,c)=>{
    const a=mk(bar,'rect',{x:left+c*cw,y:302,width:cw+.4,height:37,fill:sampleGroups[c]==='OE'?'#74bef9':'#f1934f'});
    
    
    const t=mk(lab,'text',{transform:'translate('+(left+(c+.5)*cw-13)+',2011) rotate(90)','font-size':36,fill:'#000'},name);
    
    
  });
  /* colour bar */
  const cb=document.getElementById('colorbar');
  const cbY=v=>577-136*v;
  for(let v=2.05;v>-2.03;v-=0.02){
    const s=mk(cb,'rect',{x:3743,y:cbY(v),width:37,height:3.2,fill:heatColor(v)});
    
    
  }
  colorbarTicks.forEach(v=>{
    const t=mk(cb,'text',{x:3794,y:cbY(v)+13,'font-size':36,fill:'#000'},minus(v));
    
    
  });
})();
</script>
</body>
</html>
